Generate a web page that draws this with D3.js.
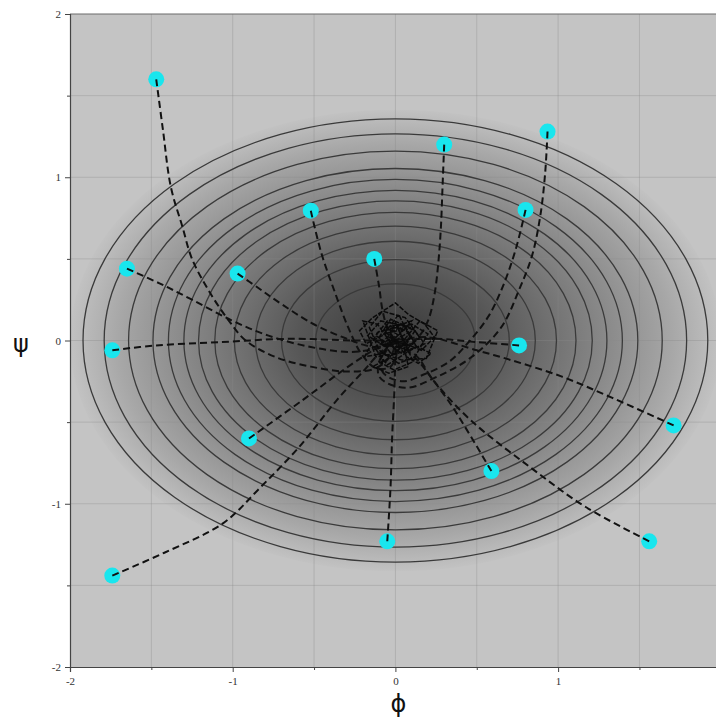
<!DOCTYPE html>
<html><head><meta charset="utf-8">
<script src="https://cdn.jsdelivr.net/npm/d3@7"></script>
<style>body{margin:0;background:#fff}</style>
</head><body>
<svg id="c" width="716" height="720"></svg>
<script>
// ---- data ----
const xMajorTicks = [-2, -1, 0, 1];
const yMajorTicks = [-2, -1, 0, 1, 2];
const minorTicks = [-1.5, -0.5, 0.5, 1.5];
const gridValues = [-1.5, -1, -0.5, 0, 0.5, 1, 1.5];
const psiWeight = 2;               // surface f = phi^2 + 2 psi^2
const contourRadii = [0.49, 0.70, 0.86, 0.99, 1.11, 1.21, 1.30, 1.395, 1.49, 1.64, 1.79, 1.92]; // phi semi-axes
const shadeRadius = 2.0;
const shadeStops = [[0, "#383838"], [0.3, "#575757"], [0.6, "#828282"], [0.85, "#a7a7a7"], [1, "#c2c2c2"]];

const trajA = [[-1.47,1.60],[-1.43,1.30],[-1.38,0.94],[-1.31,0.70],[-1.25,0.50],[-1.15,0.31],[-1.03,0.13],[-0.92,0.0],[-0.74,-0.10],[-0.52,-0.16],[-0.30,-0.19],[-0.12,-0.17],[-0.02,-0.08],[0,0]];
const trajB = [[0.935,1.28],[0.92,1.02],[0.89,0.76],[0.84,0.52],[0.76,0.31],[0.65,0.08],[0.47,-0.10],[0.26,-0.22],[0.06,-0.29],[-0.10,-0.22],[-0.08,-0.08],[0,0]];
const trajC = [[0.30,1.20],[0.29,0.95],[0.28,0.70],[0.265,0.49],[0.24,0.28],[0.20,0.12],[0.14,0.02],[0.07,-0.03],[0,0]];
const trajD = [[-0.52,0.795],[-0.455,0.535],[-0.37,0.29],[-0.29,0.08],[-0.21,-0.08],[-0.12,-0.17],[-0.03,-0.16],[0.01,-0.07],[0,0]];
const trajE = [[0.80,0.80],[0.74,0.56],[0.66,0.33],[0.57,0.145],[0.45,-0.01],[0.33,-0.13],[0.17,-0.21],[0.04,-0.25],[-0.08,-0.19],[-0.06,-0.07],[0,0]];
const trajF = [[-0.13,0.50],[-0.10,0.33],[-0.08,0.19],[-0.05,0.08],[0,0]];
const trajG = [[-1.65,0.44],[-1.45,0.35],[-1.25,0.25],[-1.01,0.125],[-0.78,0.03],[-0.52,-0.04],[-0.27,-0.07],[-0.08,-0.04],[0,0]];
const trajH = [[-0.97,0.41],[-0.84,0.32],[-0.74,0.25],[-0.52,0.11],[-0.31,0.015],[-0.12,-0.04],[0,0]];
const trajI = [[-1.74,-0.06],[-1.47,-0.03],[-1.07,-0.01],[-0.66,0.01],[-0.25,0.0],[0,0]];
const trajJ = [[0.76,-0.03],[0.50,-0.01],[0.25,0.01],[0,0]];
const trajK = [[1.71,-0.52],[1.33,-0.35],[1.02,-0.22],[0.71,-0.12],[0.50,-0.06],[0.20,0.02],[0,0]];
const trajL = [[-0.90,-0.60],[-0.57,-0.365],[-0.29,-0.16],[-0.10,-0.04],[0,0]];
const trajM = [[0.59,-0.80],[0.465,-0.59],[0.35,-0.405],[0.23,-0.24],[0.135,-0.12],[0,0]];
const trajN = [[-0.05,-1.23],[-0.03,-0.90],[-0.02,-0.59],[-0.005,-0.28],[0,0]];
const trajO = [[1.56,-1.23],[1.17,-1.02],[0.82,-0.77],[0.465,-0.49],[0.23,-0.24],[0.135,-0.10],[0,0]];
const trajP = [[-1.74,-1.44],[-1.42,-1.30],[-1.06,-1.12],[-0.83,-0.90],[-0.59,-0.65],[-0.36,-0.365],[-0.19,-0.18],[-0.10,-0.08],[0,0]];
const trajectories = [trajA,trajB,trajC,trajD,trajE,trajF,trajG,trajH,trajI,trajJ,trajK,trajL,trajM,trajN,trajO,trajP];

const scribble1 = [[0.00,0.00],[0.08,0.05],[-0.05,0.12],[-0.12,0.03],[0.04,-0.08],[0.15,0.02],[0.06,0.14],[-0.08,0.18],[-0.16,0.08],[-0.10,-0.06],[0.02,-0.14],[0.12,-0.10],[0.20,0.04],[0.10,0.10],[-0.02,0.06],[-0.18,-0.02],[-0.22,0.06],[-0.14,0.14],[0.00,0.23],[0.08,0.16],[0.18,0.10],[0.24,0.02],[0.16,-0.06],[0.06,-0.02],[-0.06,-0.12],[-0.14,-0.16],[-0.04,-0.20],[0.08,-0.16],[0.04,0.02],[-0.06,0.08],[0.03,0.10],[0.12,0.06],[0.05,-0.05],[-0.09,-0.02],[-0.03,0.04],[0.07,-0.10],[0.14,-0.14],[0.22,-0.08],[0.10,-0.02],[-0.01,-0.04],[-0.11,0.10],[-0.20,0.12],[-0.12,-0.10],[0.00,-0.08],[0.09,0.02],[0.02,0.16],[-0.07,0.04],[0.05,0.07],[-0.04,-0.03],[0.01,0.01]];
const scribble2 = [[0.02,-0.02],[-0.07,0.06],[0.10,0.12],[0.03,0.04],[-0.13,-0.04],[-0.05,-0.15],[0.09,-0.06],[0.18,-0.02],[0.11,0.07],[-0.03,0.13],[-0.10,0.02],[-0.02,-0.09],[0.13,-0.04],[0.06,0.09],[-0.09,0.12],[-0.17,0.03],[-0.06,-0.04],[0.05,0.00],[0.15,0.12],[0.26,0.06],[0.19,-0.11],[0.04,-0.12],[-0.08,-0.08],[-0.19,-0.10],[-0.11,0.05],[0.01,0.08],[0.07,-0.03],[-0.04,0.02],[0.00,0.11],[0.11,-0.13],[-0.01,-0.18],[-0.10,-0.13],[-0.02,0.01]];

// ---- drawing ----
const svg = d3.select("#c");
const x = d3.scaleLinear().domain([-2, 2]).range([70, 720.8]);
const y = d3.scaleLinear().domain([-2, 2]).range([667, 14]);
const fmt = d => d < 0 ? "-" + Math.abs(d) : String(d);

const defs = svg.append("defs");
defs.append("clipPath").attr("id", "clip").append("rect")
  .attr("x", x(-2)).attr("y", y(2)).attr("width", x(2) - x(-2)).attr("height", y(-2) - y(2));
const grad = defs.append("radialGradient").attr("id", "shade");
grad.selectAll("stop").data(shadeStops).join("stop")
  .attr("offset", d => d[0]).attr("stop-color", d => d[1]);

const plot = svg.append("g").attr("clip-path", "url(#clip)");
plot.append("rect").attr("x", x(-2)).attr("y", y(2))
  .attr("width", x(2) - x(-2)).attr("height", y(-2) - y(2)).attr("fill", "#c4c4c4");
plot.append("ellipse").attr("cx", x(0)).attr("cy", y(0))
  .attr("rx", x(shadeRadius) - x(0)).attr("ry", y(0) - y(shadeRadius / Math.sqrt(psiWeight)))
  .attr("fill", "url(#shade)");

// grid
plot.append("g").selectAll("line").data(gridValues).join("line")
  .attr("x1", d => x(d)).attr("x2", d => x(d)).attr("y1", y(2)).attr("y2", y(-2))
  .attr("stroke", "#8a8a8a").attr("stroke-opacity", 0.35).attr("stroke-width", 1);
plot.append("g").selectAll("line").data(gridValues).join("line")
  .attr("y1", d => y(d)).attr("y2", d => y(d)).attr("x1", x(-2)).attr("x2", x(2))
  .attr("stroke", "#8a8a8a").attr("stroke-opacity", 0.35).attr("stroke-width", 1);

// contours
plot.append("g").selectAll("ellipse").data(contourRadii).join("ellipse")
  .attr("cx", x(0)).attr("cy", y(0))
  .attr("rx", a => x(a) - x(0)).attr("ry", a => y(0) - y(a / Math.sqrt(psiWeight)))
  .attr("fill", "none").attr("stroke", "#3a3a3a").attr("stroke-width", 1.3);

// start points
plot.append("g").selectAll("circle").data(trajectories).join("circle")
  .attr("cx", t => x(t[0][0])).attr("cy", t => y(t[0][1])).attr("r", 8)
  .attr("fill", "#19e6ee");

// trajectories
const line = d3.line().x(d => x(d[0])).y(d => y(d[1])).curve(d3.curveCatmullRom.alpha(0.5));
const jagged = d3.line().x(d => x(d[0])).y(d => y(d[1]));
plot.append("g").selectAll("path").data(trajectories).join("path")
  .attr("d", line).attr("fill", "none").attr("stroke", "#111")
  .attr("stroke-width", 2).attr("stroke-dasharray", "7,4");
plot.append("g").selectAll("path").data([scribble1, scribble2]).join("path")
  .attr("d", jagged).attr("fill", "none").attr("stroke", "#0a0a0a")
  .attr("stroke-width", 1.5).attr("stroke-dasharray", "5,1.5");

// top border
svg.append("line").attr("x1", x(-2)).attr("x2", x(2)).attr("y1", y(2)).attr("y2", y(2))
  .attr("stroke", "#6a6a6a").attr("stroke-width", 1);

// axes
function styleAxis(g) {
  g.select(".domain").attr("stroke", "#444").attr("stroke-width", 1.2);
  g.selectAll(".tick line").attr("stroke", "#444");
  g.selectAll("text").attr("font-family", "Liberation Serif, serif").attr("font-size", 11).attr("fill", "#333");
}
svg.append("g").attr("transform", `translate(${x(-2)},0)`)
  .call(d3.axisLeft(y).tickValues(yMajorTicks).tickSize(5).tickPadding(4).tickFormat(fmt)).call(styleAxis);
svg.append("g").attr("transform", `translate(${x(-2)},0)`)
  .call(d3.axisLeft(y).tickValues(minorTicks).tickSize(3).tickFormat("")).call(styleAxis)
  .select(".domain").remove();
svg.append("g").attr("transform", `translate(0,${y(-2)})`)
  .call(d3.axisBottom(x).tickValues(xMajorTicks).tickSize(5).tickPadding(5).tickFormat(fmt)).call(styleAxis);
svg.append("g").attr("transform", `translate(0,${y(-2)})`)
  .call(d3.axisBottom(x).tickValues(minorTicks).tickSize(3).tickFormat("")).call(styleAxis)
  .select(".domain").remove();

svg.append("text").attr("x", x(0) + 3).attr("y", 712).attr("text-anchor", "middle")
  .attr("font-family", "DejaVu Sans, sans-serif").attr("font-size", 24).attr("fill", "#111").text("ϕ");
svg.append("text").attr("x", 21).attr("y", 352).attr("text-anchor", "middle")
  .attr("font-family", "DejaVu Sans, sans-serif").attr("font-size", 24).attr("fill", "#111").text("ψ");
</script>
</body></html>
